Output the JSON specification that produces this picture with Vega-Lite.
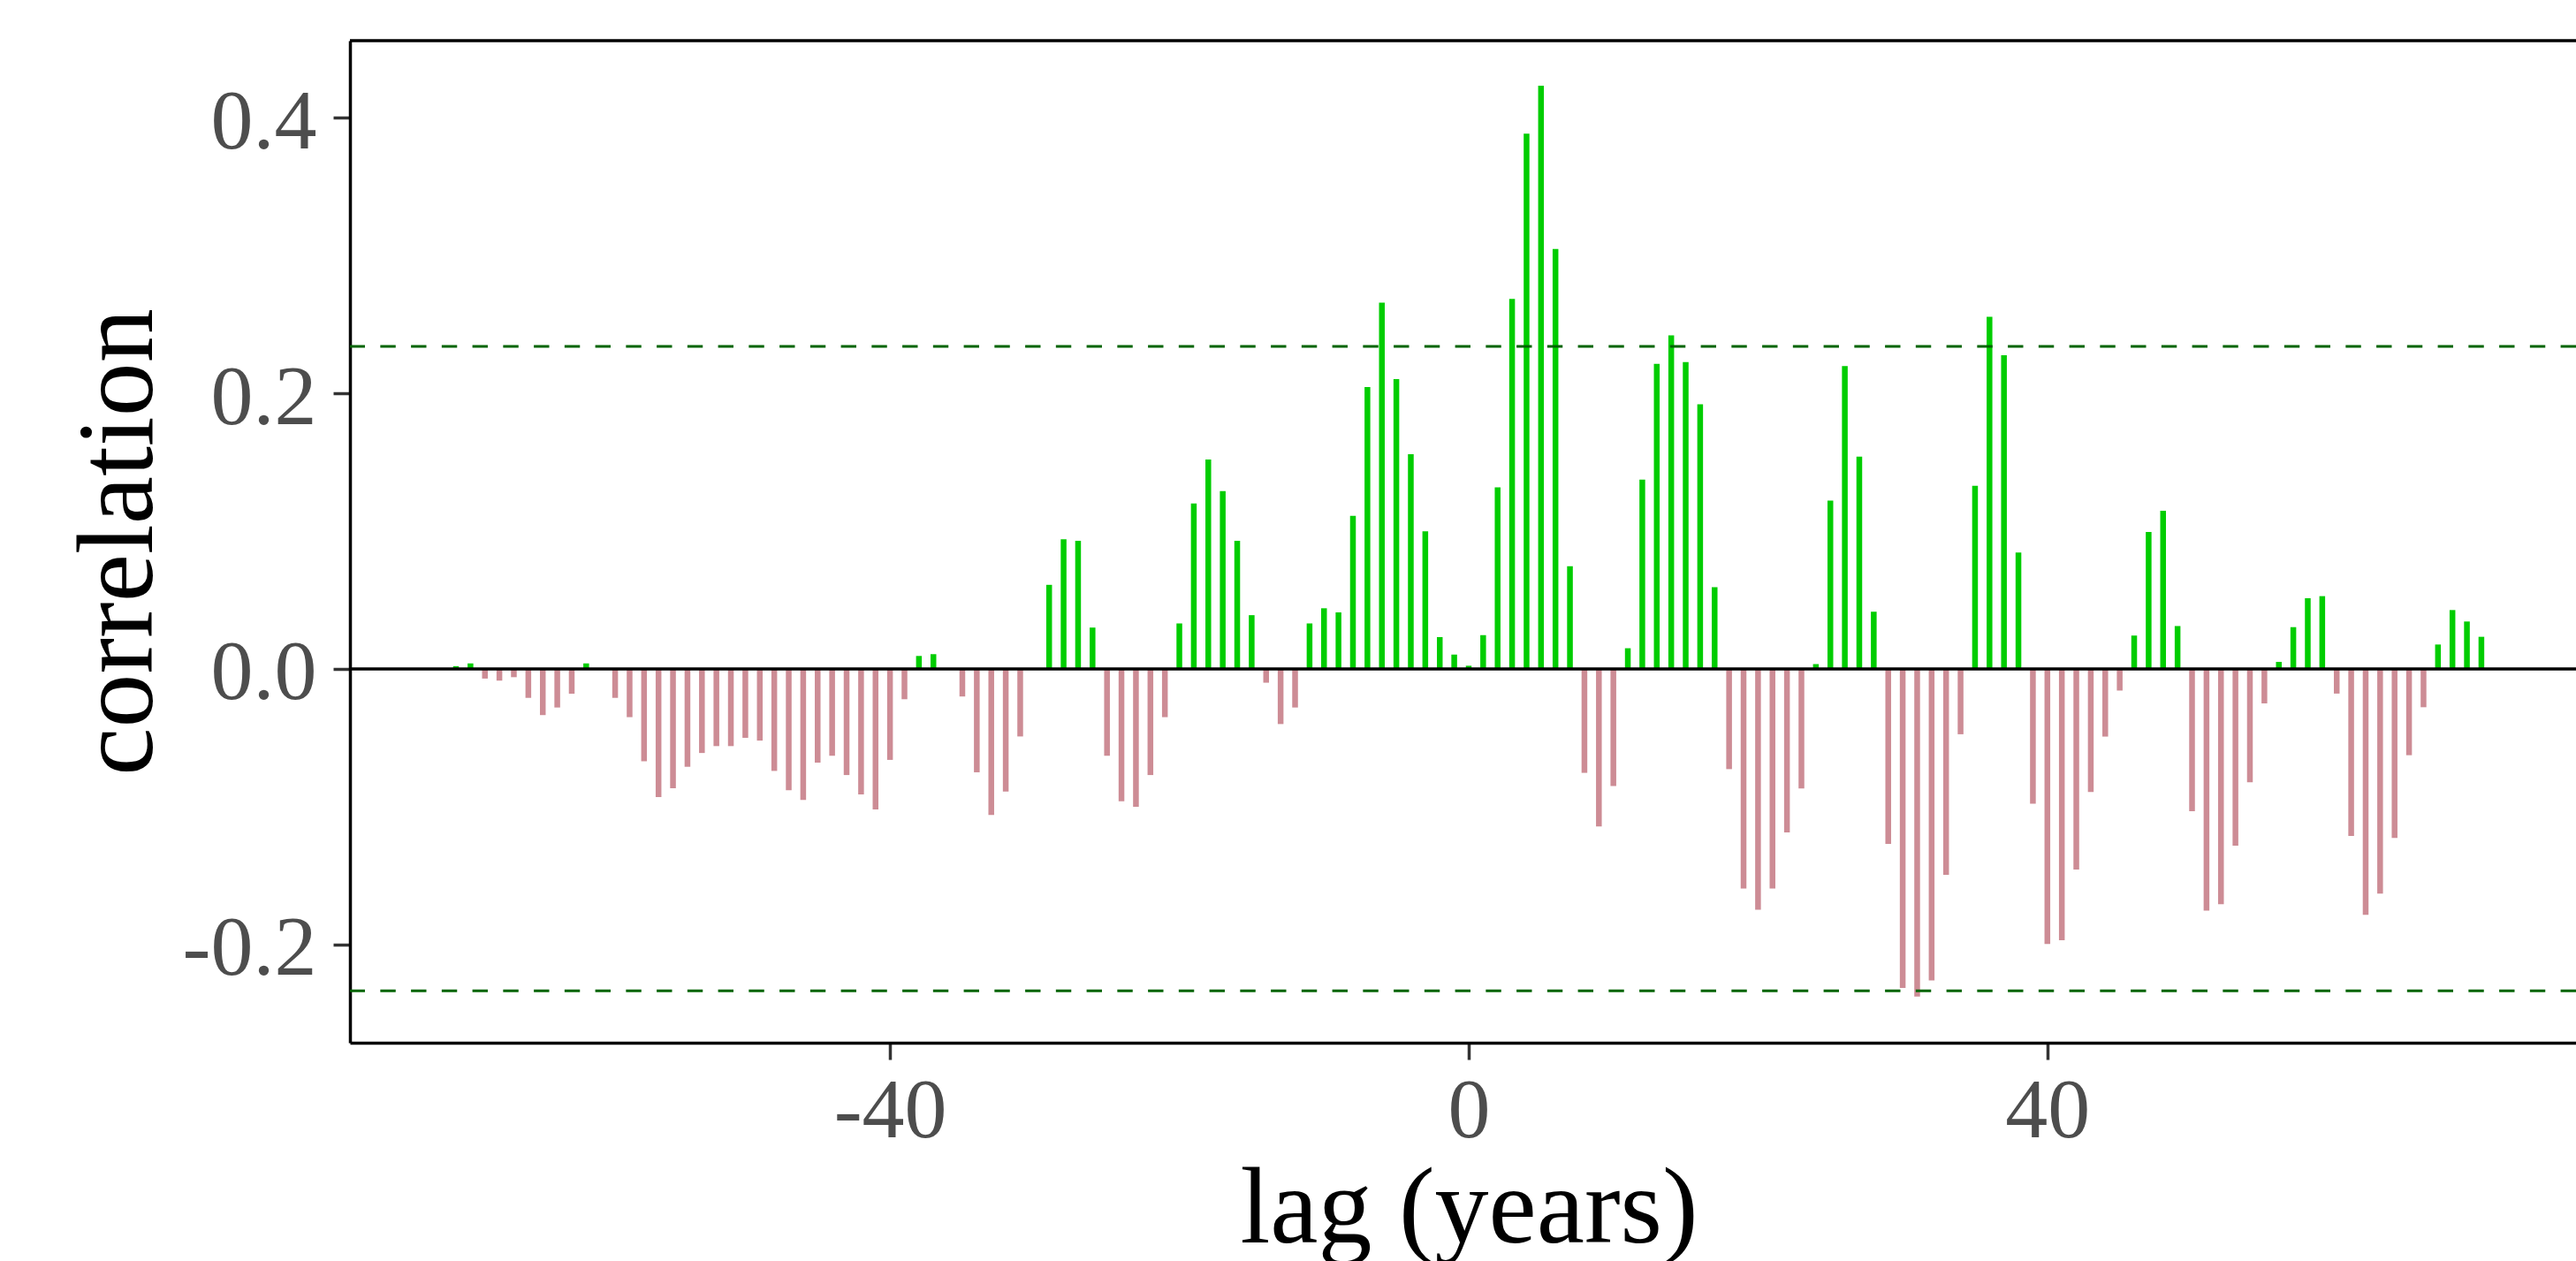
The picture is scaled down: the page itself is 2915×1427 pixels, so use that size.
{
  "$schema": "https://vega.github.io/schema/vega-lite/v6.json",
  "autosize": {"type": "none"},
  "padding": {"left": 396, "top": 46, "right": 0, "bottom": 247},
  "width": 2519,
  "height": 1134,
  "background": "white",
  "config": {
    "view": {"stroke": null},
    "axis": {
      "labelFont": "Liberation Serif",
      "titleFont": "Liberation Serif",
      "labelFontSize": 96,
      "titleFontSize": 122,
      "labelColor": "#4D4D4D",
      "titleColor": "#000000",
      "titleFontWeight": "normal",
      "tickColor": "#333333",
      "tickWidth": 3.5,
      "tickSize": 19,
      "domainColor": "#000000",
      "domainWidth": 3.5,
      "grid": false,
      "labelFlush": false,
      "labelOverlap": false
    }
  },
  "layer": [
    {
      "data": {"values": [
        {"lag": -70, "r": 0.002}, {"lag": -69, "r": 0.004}, {"lag": -68, "r": -0.007}, {"lag": -67, "r": -0.0085},
        {"lag": -66, "r": -0.006}, {"lag": -65, "r": -0.021}, {"lag": -64, "r": -0.0335}, {"lag": -63, "r": -0.028},
        {"lag": -62, "r": -0.018}, {"lag": -61, "r": 0.004}, {"lag": -60, "r": 0.0}, {"lag": -59, "r": -0.021},
        {"lag": -58, "r": -0.035}, {"lag": -57, "r": -0.067}, {"lag": -56, "r": -0.093}, {"lag": -55, "r": -0.0865},
        {"lag": -54, "r": -0.071}, {"lag": -53, "r": -0.061}, {"lag": -52, "r": -0.056}, {"lag": -51, "r": -0.056},
        {"lag": -50, "r": -0.05}, {"lag": -49, "r": -0.052}, {"lag": -48, "r": -0.074}, {"lag": -47, "r": -0.088},
        {"lag": -46, "r": -0.095}, {"lag": -45, "r": -0.068}, {"lag": -44, "r": -0.063}, {"lag": -43, "r": -0.077},
        {"lag": -42, "r": -0.091}, {"lag": -41, "r": -0.102}, {"lag": -40, "r": -0.066}, {"lag": -39, "r": -0.022},
        {"lag": -38, "r": 0.0094}, {"lag": -37, "r": 0.0107}, {"lag": -36, "r": 0.0}, {"lag": -35, "r": -0.02},
        {"lag": -34, "r": -0.075}, {"lag": -33, "r": -0.106}, {"lag": -32, "r": -0.089}, {"lag": -31, "r": -0.049},
        {"lag": -30, "r": 0.0}, {"lag": -29, "r": 0.061}, {"lag": -28, "r": 0.094}, {"lag": -27, "r": 0.093},
        {"lag": -26, "r": 0.03}, {"lag": -25, "r": -0.063}, {"lag": -24, "r": -0.096}, {"lag": -23, "r": -0.1},
        {"lag": -22, "r": -0.077}, {"lag": -21, "r": -0.035}, {"lag": -20, "r": 0.033}, {"lag": -19, "r": 0.12},
        {"lag": -18, "r": 0.152}, {"lag": -17, "r": 0.129}, {"lag": -16, "r": 0.093}, {"lag": -15, "r": 0.039},
        {"lag": -14, "r": -0.01}, {"lag": -13, "r": -0.04}, {"lag": -12, "r": -0.028}, {"lag": -11, "r": 0.033},
        {"lag": -10, "r": 0.044}, {"lag": -9, "r": 0.041}, {"lag": -8, "r": 0.111}, {"lag": -7, "r": 0.2045},
        {"lag": -6, "r": 0.2657}, {"lag": -5, "r": 0.2102}, {"lag": -4, "r": 0.1557}, {"lag": -3, "r": 0.0999},
        {"lag": -2, "r": 0.0231}, {"lag": -1, "r": 0.0104}, {"lag": 0, "r": 0.0023}, {"lag": 1, "r": 0.0245},
        {"lag": 2, "r": 0.1317}, {"lag": 3, "r": 0.2685}, {"lag": 4, "r": 0.3884}, {"lag": 5, "r": 0.4231},
        {"lag": 6, "r": 0.3047}, {"lag": 7, "r": 0.0745}, {"lag": 8, "r": -0.0754}, {"lag": 9, "r": -0.1143},
        {"lag": 10, "r": -0.085}, {"lag": 11, "r": 0.015}, {"lag": 12, "r": 0.1374}, {"lag": 13, "r": 0.2213},
        {"lag": 14, "r": 0.242}, {"lag": 15, "r": 0.2226}, {"lag": 16, "r": 0.192}, {"lag": 17, "r": 0.0593},
        {"lag": 18, "r": -0.0727}, {"lag": 19, "r": -0.1594}, {"lag": 20, "r": -0.1747}, {"lag": 21, "r": -0.1594},
        {"lag": 22, "r": -0.1186}, {"lag": 23, "r": -0.0867}, {"lag": 24, "r": 0.0035}, {"lag": 25, "r": 0.1221},
        {"lag": 26, "r": 0.2197}, {"lag": 27, "r": 0.154}, {"lag": 28, "r": 0.0415}, {"lag": 29, "r": -0.1269},
        {"lag": 30, "r": -0.2315}, {"lag": 31, "r": -0.2377}, {"lag": 32, "r": -0.226}, {"lag": 33, "r": -0.1494},
        {"lag": 34, "r": -0.0474}, {"lag": 35, "r": 0.1328}, {"lag": 36, "r": 0.2554}, {"lag": 37, "r": 0.2276},
        {"lag": 38, "r": 0.0844}, {"lag": 39, "r": -0.0978}, {"lag": 40, "r": -0.1995}, {"lag": 41, "r": -0.1969},
        {"lag": 42, "r": -0.1455}, {"lag": 43, "r": -0.0893}, {"lag": 44, "r": -0.0491}, {"lag": 45, "r": -0.0157},
        {"lag": 46, "r": 0.0242}, {"lag": 47, "r": 0.0994}, {"lag": 48, "r": 0.1148}, {"lag": 49, "r": 0.0311},
        {"lag": 50, "r": -0.1033}, {"lag": 51, "r": -0.1754}, {"lag": 52, "r": -0.1707}, {"lag": 53, "r": -0.1282},
        {"lag": 54, "r": -0.0823}, {"lag": 55, "r": -0.025}, {"lag": 56, "r": 0.0051}, {"lag": 57, "r": 0.0303},
        {"lag": 58, "r": 0.0513}, {"lag": 59, "r": 0.0528}, {"lag": 60, "r": -0.0179}, {"lag": 61, "r": -0.1212},
        {"lag": 62, "r": -0.1784}, {"lag": 63, "r": -0.163}, {"lag": 64, "r": -0.1226}, {"lag": 65, "r": -0.0626},
        {"lag": 66, "r": -0.0278}, {"lag": 67, "r": 0.0177}, {"lag": 68, "r": 0.0427}, {"lag": 69, "r": 0.0344},
        {"lag": 70, "r": 0.0233}
      ]},
      "mark": {"type": "rule", "strokeWidth": 6.5, "strokeCap": "butt"},
      "encoding": {
        "x": {
          "field": "lag", "type": "quantitative",
          "scale": {"domain": [-77.33, 76.54], "nice": false, "zero": false},
          "axis": {
            "title": "lag (years)",
            "values": [-40, 0, 40],
            "labelExpr": "datum.value < 0 ? '-' + format(-datum.value, 'd') : format(datum.value, 'd')",
            "labelPadding": 11,
            "labelBaseline": "top",
            "titleX": 1266,
            "titleY": 225,
            "titleBaseline": "alphabetic",
            "titleAlign": "center"
          }
        },
        "y": {
          "field": "r", "type": "quantitative",
          "scale": {"domain": [-0.2712, 0.4558], "nice": false, "zero": false},
          "axis": {
            "title": "correlation",
            "values": [-0.2, 0, 0.2, 0.4],
            "labelExpr": "datum.value < 0 ? '-' + format(-datum.value, '.1f') : format(datum.value, '.1f')",
            "labelPadding": 19,
            "labelOffset": 5,
            "titleX": -225,
            "titleY": 567,
            "titleBaseline": "alphabetic",
            "titleAlign": "center",
            "titleAngle": 270
          }
        },
        "y2": {"datum": 0},
        "color": {"condition": {"test": "datum.r >= 0", "value": "#00CD00"}, "value": "#CD8C95"}
      }
    },
    {
      "data": {"values": [{"level": 0.234}, {"level": -0.2335}]},
      "mark": {"type": "rule", "color": "#006400", "strokeWidth": 3, "strokeDash": [17.4, 17.35]},
      "encoding": {
        "y": {"field": "level", "type": "quantitative", "axis": {"title": "correlation"}}
      }
    },
    {
      "data": {"values": [{"level": 0}]},
      "mark": {"type": "rule", "color": "#000000", "strokeWidth": 3.5},
      "encoding": {
        "y": {"field": "level", "type": "quantitative", "axis": {"title": "correlation"}}
      }
    },
    {
      "data": {"values": [{"level": 0.4558}]},
      "mark": {"type": "rule", "color": "#000000", "strokeWidth": 3.5},
      "encoding": {
        "y": {"field": "level", "type": "quantitative", "axis": {"title": "correlation"}}
      }
    }
  ]
}
